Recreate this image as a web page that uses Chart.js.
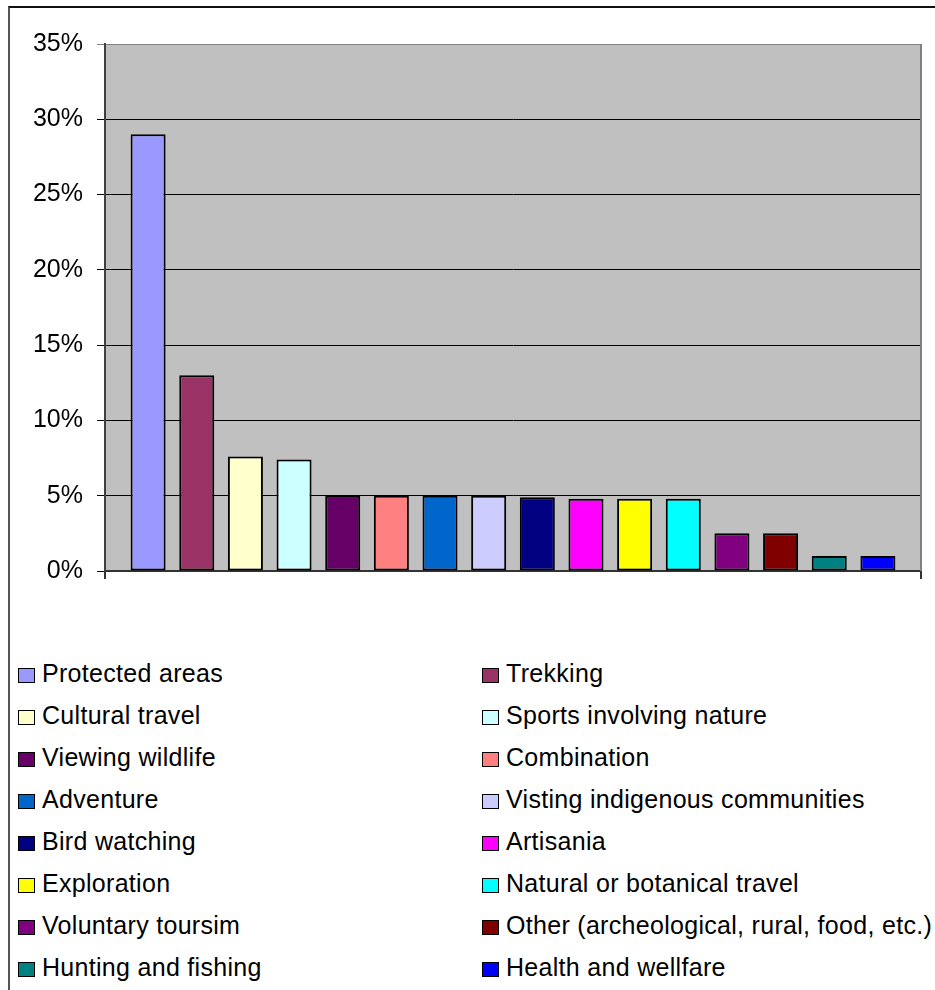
<!DOCTYPE html>
<html>
<head>
<meta charset="utf-8">
<script src="https://cdn.jsdelivr.net/npm/chart.js@4.4.1/dist/chart.umd.min.js"></script>
<style>
  html, body { margin: 0; padding: 0; background: #fff; overflow: hidden; }
  #wrap { position: relative; width: 935px; height: 990px; overflow: hidden; font-family: "Liberation Sans", Arial, sans-serif; }
  #frame { position: absolute; left: 8px; top: 6px; width: 1000px; height: 1100px; border-top: 2px solid #111; border-left: 2px solid #555; }
  #chart { position: absolute; left: 0; top: 0; }
  .item { position: absolute; height: 24px; line-height: 24px; font-size: 25px; letter-spacing: 0.3px; color: #000; white-space: nowrap; }
  .box { position: absolute; left: 0; top: 7px; width: 15px; height: 13px; border: 1px solid #000; }
  .txt { position: absolute; left: 24px; top: 0; }
</style>
</head>
<body>
<div id="wrap">
  <div id="frame"></div>
  <canvas id="chart" width="935" height="620"></canvas>
  <div id="legend"></div>
</div>
<script>
const categories = ["Protected areas", "Trekking", "Cultural travel", "Sports involving nature",
  "Viewing wildlife", "Combination", "Adventure", "Visting indigenous communities",
  "Bird watching", "Artisania", "Exploration", "Natural or botanical travel",
  "Voluntary toursim", "Other (archeological, rural, food, etc.)", "Hunting and fishing", "Health and wellfare"];
const shares = [29, 13, 7.6, 7.4, 5, 5, 5, 5, 4.9, 4.8, 4.8, 4.8, 2.5, 2.5, 1, 1];
const colors = ["#9999FF", "#993366", "#FFFFCC", "#CCFFFF", "#660066", "#FF8080", "#0066CC", "#CCCCFF",
  "#000080", "#FF00FF", "#FFFF00", "#00FFFF", "#800080", "#800000", "#008080", "#0000FF"];
const yTicks = [0, 5, 10, 15, 20, 25, 30, 35];

// grey plot area + right border + edge ticks on the category axis
const plotFrame = {
  id: 'plotFrame',
  beforeDraw(chart) {
    const a = chart.chartArea, c = chart.ctx;
    c.save();
    c.fillStyle = '#C0C0C0';
    c.fillRect(a.left, a.top, a.right - a.left, a.bottom - a.top);
    c.restore();
  },
  afterDraw(chart) {
    const a = chart.chartArea, c = chart.ctx;
    c.save();
    c.strokeStyle = '#808080';
    c.lineWidth = 2;
    c.beginPath();
    c.moveTo(a.right, a.top);
    c.lineTo(a.right, a.bottom);
    c.stroke();
    c.strokeStyle = '#333';
    c.lineWidth = 2;
    c.beginPath();
    c.moveTo(a.left, a.bottom);
    c.lineTo(a.left, a.bottom + 8);
    c.moveTo(a.right, a.bottom);
    c.lineTo(a.right, a.bottom + 8);
    c.stroke();
    c.restore();
  }
};

const ctx = document.getElementById('chart').getContext('2d');
const chart = new Chart(ctx, {
  type: 'bar',
  data: {
    labels: categories,
    datasets: [{
      data: shares.map((v, i) => ({ x: i + 1, y: v })),
      backgroundColor: colors,
      borderColor: '#000',
      borderWidth: 2,
      borderSkipped: false,
      categoryPercentage: 1,
      barPercentage: 0.72
    }]
  },
  options: {
    responsive: false,
    animation: false,
    layout: { padding: { left: 0, right: 14, top: 44, bottom: 49 } },
    plugins: { legend: { display: false }, tooltip: { enabled: false } },
    scales: {
      x: {
        type: 'linear',
        offset: false,
        min: 0.114,
        max: 16.886,
        ticks: { display: false },
        grid: { display: false, offset: false },
        border: { display: true, color: '#333', width: 2 },
        afterFit: s => { s.height = 0; }
      },
      y: {
        min: 0,
        max: 35,
        afterBuildTicks: s => { s.ticks = yTicks.map(v => ({ value: v })); },
        ticks: {
          color: '#000',
          padding: 14,
          font: { family: '"Liberation Sans", Arial, sans-serif', size: 25 },
          callback: v => v + '%'
        },
        grid: {
          color: c => (c.tick && c.tick.value === 35 ? '#808080' : '#000'),
          lineWidth: 1,
          tickLength: 8
        },
        border: { display: true, color: '#404040', width: 2 },
        afterFit: s => { s.width = 105; }
      }
    }
  },
  plugins: [plotFrame]
});

// two-column legend
const legend = document.getElementById('legend');
categories.forEach((name, i) => {
  const row = Math.floor(i / 2), col = i % 2;
  const item = document.createElement('div');
  item.className = 'item';
  item.style.left = (col ? 482 : 18) + 'px';
  item.style.top = (661 + row * 42) + 'px';
  item.innerHTML = '<span class="box" style="background:' + colors[i] + '"></span><span class="txt">' + name + '</span>';
  legend.appendChild(item);
});
</script>
</body>
</html>
